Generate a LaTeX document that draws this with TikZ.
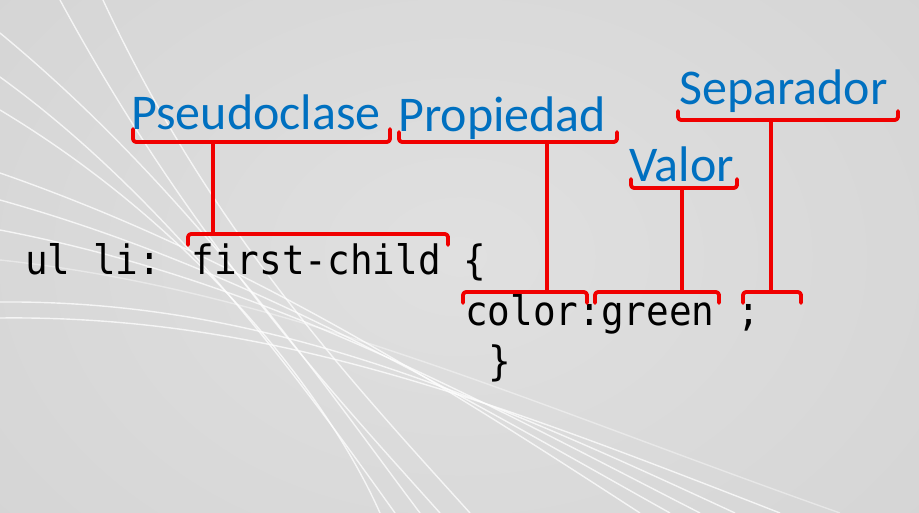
\documentclass[tikz,border=0pt]{standalone}
\usepackage{fontspec}
\newfontfamily\codefont[FakeStretch=0.93]{DejaVu Sans Mono}
\newfontfamily\lblfont{Carlito}
\definecolor{lblblue}{HTML}{0070C0}
\definecolor{bgmid}{HTML}{E0E0E0}
\definecolor{bgout}{HTML}{D2D2D2}
\definecolor{brred}{HTML}{F00000}
\tikzset{
  lbl/.style={anchor=base west, inner sep=0pt, text=lblblue, font=\lblfont\fontsize{50}{60}\selectfont},
  code/.style={anchor=base west, inner sep=0pt, text=black, font=\codefont\fontsize{40.5}{48}\selectfont},
  brk/.style={draw=brred, line width=3.8pt, rounded corners=3pt, line cap=round, line join=round},
  stem/.style={draw=brred, line width=3.6pt},
  swoosh/.style={draw=white, line width=1.4pt, opacity=0.75}
}
% label bracket (opens upward): x1, x2, y of bar, y of tick tops
\newcommand\LblBracket[4]{\draw[brk] (#1,#4) -- (#1,#3) -- (#2,#3) -- (#2,#4);}
% code bracket (opens downward): x1, x2, y of bar, y of tick bottoms
\newcommand\CodeBracket[4]{\draw[brk] (#1,#4) -- (#1,#3) -- (#2,#3) -- (#2,#4);}
\begin{document}
\begin{tikzpicture}[x=1pt,y=-1pt]
\useasboundingbox (0,0) rectangle (919,513);
% background
\shade[inner color=bgmid, outer color=bgout] (-300,-300) rectangle (1219,813);
\clip (0,0) rectangle (919,513);
% decorative swooshes: steep family
\draw[swoosh] (60,0) .. controls (190,240) and (330,390) .. (440,513);
\draw[swoosh] (103,0) .. controls (210,230) and (350,380) .. (470,513);
\draw[swoosh] (0,33) .. controls (190,190) and (320,380) .. (420,513);
\draw[swoosh] (0,77) .. controls (170,200) and (300,380) .. (395,513);
\draw[swoosh] (0,110) .. controls (200,230) and (330,400) .. (380,513);
% shallow family
\draw[swoosh] (0,173) .. controls (250,260) and (450,390) .. (640,513);
\draw[swoosh] (0,200) .. controls (250,270) and (450,390) .. (670,513);
\draw[swoosh] (0,230) .. controls (260,280) and (460,390) .. (700,513);
\draw[swoosh] (0,302) .. controls (260,300) and (470,390) .. (735,513);
\draw[swoosh] (0,318) .. controls (270,315) and (490,400) .. (780,513);
\draw[swoosh,opacity=0.4] (0,260) .. controls (280,290) and (520,400) .. (840,513);
% labels
\node[lbl] (pseudo) at (131,130) {Pseudoclase};
\node[lbl] (prop) at (398,132) {Propiedad};
\node[lbl] (valor) at (629,182) {Valor};
\node[lbl] (sep) at (679,105) {Separador};
% code
\node[code] (l1) at (25,275) {ul li: first-child \{};
\node[code] (l2) at (465,325) {color:green ;};
\node[code] (l3) at (488,375) {\}};
% bracket anchor points
\coordinate (bPs) at (213,142);
\coordinate (bFc) at (213,234);
\coordinate (bPr) at (547,142);
\coordinate (bCo) at (547,292);
\coordinate (bVa) at (682,188);
\coordinate (bGr) at (682,292);
\coordinate (bSe) at (771,120);
\coordinate (bSc) at (771,292);
% label brackets
\LblBracket{133}{390}{142}{129}
\LblBracket{399}{617}{142}{132}
\LblBracket{631}{737}{188}{179}
\LblBracket{678}{898}{120}{111}
% code brackets
\CodeBracket{188}{448}{234}{245}
\CodeBracket{463}{587}{292}{303}
\CodeBracket{595}{719}{292}{303}
\CodeBracket{743}{801}{292}{303}
% stems
\draw[stem] (bPs) -- (bFc);
\draw[stem] (bPr) -- (bCo);
\draw[stem] (bVa) -- (bGr);
\draw[stem] (bSe) -- (bSc);
\end{tikzpicture}
\end{document}
